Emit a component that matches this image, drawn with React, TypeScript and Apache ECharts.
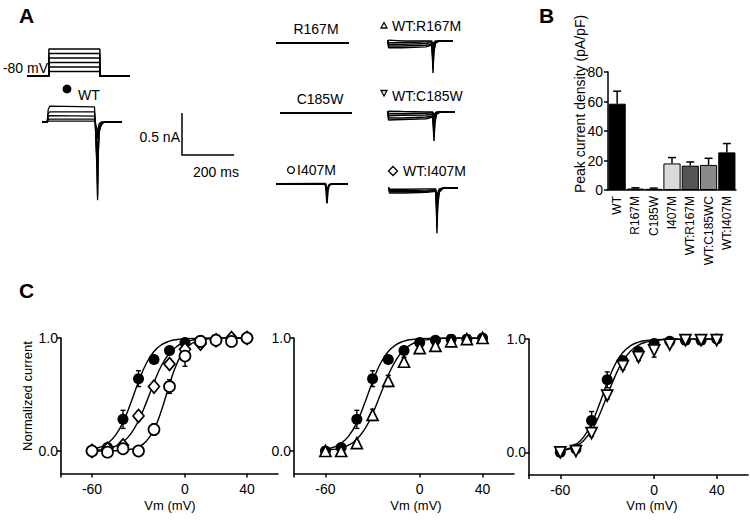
import React, { useEffect, useRef } from "react";
import * as echarts from "echarts";

const FONT = "'Liberation Sans', Arial, Helvetica, sans-serif";

// ---------------- Panel A: voltage protocol ----------------
const protocolHoldingMv = -80;
const protocolStepMv = [-60, -40, -20, 0, 20, 40];
const protocolOnMs = 85;
const protocolOffMs = 283;
const protocolEndMs = 400;

// ---------------- Panel A: current traces (ms, nA) ----------------
const wtTimesMs = [0, 20, 24, 30, 202, 205, 212, 214, 216, 220, 228, 240, 308];
const wtTracesNa = [
  [0, 0, 0.15, 0.19, 0.18, 0, -0.6, -0.93, -0.45, -0.12, -0.03, 0, 0],
  [0, 0, 0.1, 0.12, 0.12, 0, -0.55, -0.88, -0.4, -0.11, -0.03, 0, 0],
  [0, 0, 0.06, 0.075, 0.07, 0, -0.45, -0.75, -0.33, -0.09, -0.02, 0, 0],
  [0, 0, 0.03, 0.035, 0.035, 0, -0.3, -0.5, -0.22, -0.06, -0.01, 0, 0],
  [0, 0, 0.01, 0.01, 0.01, 0, -0.1, -0.2, -0.08, -0.02, 0, 0, 0],
];

const r167mTimesMs = [0, 281];
const r167mTracesNa = [[0, 0]];
const c185wTimesMs = [0, 277];
const c185wTracesNa = [[0, 0]];

const i407mTimesMs = [0, 190, 194, 196, 199, 204, 212, 277];
const i407mTracesNa = [
  [0, 0, -0.1, -0.23, -0.09, -0.02, 0, 0],
  [0, 0.005, -0.06, -0.15, -0.05, -0.01, 0, 0],
];

const wtR167mTimesMs = [0, 3, 6, 60, 150, 172, 175, 177, 180, 186, 200, 254];
const wtR167mTracesNa = [
  [0, 0, -0.08, -0.08, -0.07, -0.05, -0.2, -0.38, -0.15, -0.03, 0, 0],
  [0, 0, -0.06, -0.06, -0.05, -0.04, -0.17, -0.33, -0.12, -0.02, 0, 0],
  [0, 0, -0.04, -0.04, -0.03, -0.02, -0.12, -0.26, -0.09, -0.02, 0, 0],
  [0, 0, -0.02, -0.02, -0.01, -0.01, -0.06, -0.15, -0.05, -0.01, 0, 0],
  [0, 0, 0.01, 0, 0, 0, -0.02, -0.05, -0.02, 0, 0, 0],
];

const wtC185wTimesMs = [0, 3, 6, 60, 150, 176, 179, 181, 184, 190, 204, 262];
const wtC185wTracesNa = [
  [0, 0, -0.095, -0.09, -0.08, -0.06, -0.2, -0.345, -0.14, -0.03, 0, 0],
  [0, 0, -0.07, -0.07, -0.06, -0.05, -0.17, -0.3, -0.12, -0.02, 0, 0],
  [0, 0, -0.045, -0.04, -0.035, -0.03, -0.12, -0.22, -0.08, -0.02, 0, 0],
  [0, 0, -0.02, -0.02, -0.015, -0.01, -0.06, -0.12, -0.04, -0.01, 0, 0],
  [0, 0, 0.01, 0.005, 0, 0, -0.02, -0.05, -0.02, 0, 0, 0],
];

const wtI407mTimesMs = [0, 3, 6, 60, 150, 183, 186, 188, 191, 197, 212, 269];
const wtI407mTracesNa = [
  [0, 0, -0.06, -0.06, -0.05, -0.04, -0.25, -0.54, -0.22, -0.05, 0, 0],
  [0, 0, -0.045, -0.045, -0.04, -0.03, -0.2, -0.46, -0.18, -0.04, 0, 0],
  [0, 0, -0.03, -0.03, -0.025, -0.02, -0.14, -0.34, -0.12, -0.03, 0, 0],
  [0, 0, -0.015, -0.015, -0.01, -0.01, -0.07, -0.18, -0.06, -0.01, 0, 0],
];

// ---------------- Panel B: peak current density ----------------
const barCategories = ["WT", "R167M", "C185W", "I407M", "WT:R167M", "WT:C185WC", "WT:I407M"];
const barValues = [58.5, 1.0, 0.8, 18.0, 16.5, 17.0, 25.5];
const barErrors = [8.5, 0.5, 0.5, 4.0, 2.5, 4.5, 6.0];
const barColors = ["#000000", "#000000", "#000000", "#dadada", "#555555", "#8a8a8a", "#000000"];
const barTicks = [0, 20, 40, 60, 80];

// ---------------- Panel C: activation curves ----------------
const vmSteps = [-60, -50, -40, -30, -20, -10, 0, 10, 20, 30, 40];
const wtMean = [0.0, 0.03, 0.28, 0.64, 0.81, 0.89, 0.96, 0.98, 0.99, 0.99, 1.0];
const wtSem = [0.01, 0.01, 0.08, 0.07, 0.02, 0.02, 0.03, 0.01, 0.01, 0.01, 0.01];
const i407mMean = [0.0, -0.01, 0.02, 0.0, 0.19, 0.57, 0.84, 0.97, 0.98, 0.97, 1.0];
const i407mSem = [0.01, 0.01, 0.01, 0.01, 0.05, 0.06, 0.09, 0.02, 0.01, 0.01, 0.01];
const wtI407mMean = [0.0, 0.02, 0.05, 0.31, 0.57, 0.77, 0.9, 0.95, 0.98, 1.0, 1.0];
const wtI407mSem = [0.01, 0.01, 0.01, 0.04, 0.03, 0.02, 0.03, 0.02, 0.01, 0.01, 0.01];
const wtR167mMean = [0.0, 0.0, 0.07, 0.32, 0.62, 0.79, 0.91, 0.93, 0.97, 0.99, 1.0];
const wtR167mSem = [0.01, 0.01, 0.02, 0.05, 0.05, 0.04, 0.03, 0.02, 0.01, 0.01, 0.01];
const wtC185wMean = [0.0, 0.01, 0.17, 0.5, 0.76, 0.84, 0.9, 0.95, 0.99, 0.99, 0.99];
const wtC185wSem = [0.01, 0.01, 0.03, 0.03, 0.03, 0.03, 0.06, 0.02, 0.01, 0.01, 0.01];

const vmFit = [-60, -55, -50, -45, -40, -35, -30, -25, -20, -15, -10, -5, 0, 5, 10, 15, 20, 25, 30, 35, 40];
const wtFit = [0.015, 0.033, 0.068, 0.136, 0.254, 0.424, 0.613, 0.774, 0.881, 0.941, 0.972, 0.987, 0.994, 0.997, 0.999, 1, 1, 1, 1, 1, 1];
const i407mFit = [0, 0, 0.001, 0.002, 0.006, 0.015, 0.036, 0.086, 0.19, 0.367, 0.59, 0.781, 0.898, 0.956, 0.982, 0.993, 0.997, 0.999, 1, 1, 1];
const wtI407mFit = [0.005, 0.01, 0.021, 0.042, 0.081, 0.152, 0.269, 0.428, 0.606, 0.761, 0.865, 0.928, 0.964, 0.982, 0.991, 0.996, 0.998, 0.999, 1, 1, 1];
const wtR167mFit = [0.007, 0.014, 0.027, 0.054, 0.105, 0.193, 0.33, 0.5, 0.67, 0.807, 0.895, 0.946, 0.973, 0.986, 0.993, 0.997, 0.998, 1, 1, 1, 1];
const wtC185wFit = [0.014, 0.027, 0.054, 0.105, 0.193, 0.33, 0.5, 0.67, 0.807, 0.895, 0.946, 0.973, 0.986, 0.993, 0.997, 0.998, 1, 1, 1, 1, 1];

const cXTicks = [-80, -60, 0, 40];
const cXLabels = [-60, 0, 40];
const cYLabels = [0, 1];

function buildOption(): any {
  const black = "#000";
  const grids = [
    { left: 27, top: 46.75, width: 103, height: 31.5 }, // 0 protocol
    { left: 42, top: 96.8, width: 80, height: 109.2 }, // 1 WT
    { left: 276, top: 17.8, width: 73, height: 109.2 }, // 2 R167M
    { left: 280, top: 87.8, width: 72, height: 109.2 }, // 3 C185W
    { left: 276, top: 158.8, width: 72, height: 109.2 }, // 4 I407M
    { left: 387, top: 15.8, width: 66, height: 109.2 }, // 5 WT:R167M
    { left: 387, top: 86.8, width: 68, height: 109.2 }, // 6 WT:C185W
    { left: 388, top: 162.8, width: 70, height: 109.2 }, // 7 WT:I407M
    { left: 608, top: 72, width: 128, height: 118 }, // 8 bars
    { left: 61, top: 338, width: 217, height: 135.6 }, // 9 C1
    { left: 294, top: 338, width: 220, height: 135.6 }, // 10 C2
    { left: 529, top: 339, width: 219, height: 136 }, // 11 C3
  ];

  const traceSets: [number, number[], number[][], number][] = [
    [1, wtTimesMs, wtTracesNa, 1.3],
    [2, r167mTimesMs, r167mTracesNa, 2.2],
    [3, c185wTimesMs, c185wTracesNa, 2.2],
    [4, i407mTimesMs, i407mTracesNa, 1.8],
    [5, wtR167mTimesMs, wtR167mTracesNa, 1.4],
    [6, wtC185wTimesMs, wtC185wTracesNa, 1.5],
    [7, wtI407mTimesMs, wtI407mTracesNa, 1.4],
  ];

  const xAxis: any[] = [];
  const yAxis: any[] = [];
  const series: any[] = [];

  // protocol axes
  xAxis.push({ gridIndex: 0, type: "value", min: 0, max: protocolEndMs, show: false });
  yAxis.push({ gridIndex: 0, type: "value", min: -90, max: 50, show: false });
  protocolStepMv.forEach((lvl) => {
    series.push({
      type: "line",
      xAxisIndex: 0,
      yAxisIndex: 0,
      symbol: "none",
      silent: true,
      lineStyle: { color: black, width: 1.4 },
      data: [
        [0, protocolHoldingMv],
        [protocolOnMs, protocolHoldingMv],
        [protocolOnMs, lvl],
        [protocolOffMs, lvl],
        [protocolOffMs, protocolHoldingMv],
        [protocolEndMs, protocolHoldingMv],
      ],
    });
  });

  traceSets.forEach(([gi, times, traces, w]) => {
    xAxis.push({ gridIndex: gi, type: "value", min: 0, max: times[times.length - 1], show: false });
    yAxis.push({ gridIndex: gi, type: "value", min: -1, max: 0.3, show: false });
    traces.forEach((tr) => {
      series.push({
        type: "line",
        xAxisIndex: gi,
        yAxisIndex: gi,
        symbol: "none",
        silent: true,
        lineStyle: { color: black, width: w },
        data: times.map((t, i) => [t, tr[i]]),
      });
    });
  });

  // Panel B axes
  xAxis.push({
    gridIndex: 8,
    type: "category",
    data: barCategories,
    axisLine: { show: true, lineStyle: { color: black, width: 1.5 } },
    axisTick: { show: false },
    axisLabel: { interval: 0, rotate: 90, color: black, fontSize: 12, fontFamily: FONT, margin: 6 },
  });
  yAxis.push({
    gridIndex: 8,
    type: "value",
    min: barTicks[0],
    max: barTicks[barTicks.length - 1],
    interval: barTicks[1] - barTicks[0],
    axisLine: { show: true, lineStyle: { color: black, width: 1.5 } },
    axisTick: { show: true, length: 4, lineStyle: { color: black, width: 1.5 } },
    axisLabel: { color: black, fontSize: 14, fontFamily: FONT, margin: 5 },
    splitLine: { show: false },
  });
  series.push({
    type: "bar",
    xAxisIndex: 8,
    yAxisIndex: 8,
    barCategoryGap: "6%",
    silent: true,
    itemStyle: { borderColor: black, borderWidth: 1 },
    data: barValues.map((v, i) => ({ value: v, itemStyle: { color: barColors[i] } })),
  });
  series.push({
    type: "custom",
    xAxisIndex: 8,
    yAxisIndex: 8,
    silent: true,
    z: 5,
    data: barValues.map((v, i) => [i, v, barErrors[i]]),
    renderItem: (params: any, api: any) => {
      const i = api.value(0);
      const v = api.value(1);
      const e = api.value(2);
      const b = api.coord([i, v]);
      const t = api.coord([i, v + e]);
      const st = { stroke: black, lineWidth: 1.5 };
      return {
        type: "group",
        children: [
          { type: "line", shape: { x1: b[0], y1: b[1], x2: t[0], y2: t[1] }, style: st },
          { type: "line", shape: { x1: t[0] - 4, y1: t[1], x2: t[0] + 4, y2: t[1] }, style: st },
        ],
      };
    },
  });

  // Panel C axes
  [9, 10, 11].forEach((gi) => {
    xAxis.push({
      gridIndex: gi,
      type: "value",
      min: -80,
      max: 60,
      axisLine: { show: true, onZero: false, lineStyle: { color: black, width: 1.6 } },
      axisTick: { show: true, customValues: cXTicks, length: 4, lineStyle: { color: black, width: 1.5 } },
      axisLabel: { customValues: cXLabels, color: black, fontSize: 14, fontFamily: FONT, margin: 8 },
      splitLine: { show: false },
    });
    yAxis.push({
      gridIndex: gi,
      type: "value",
      min: -0.2,
      max: 1,
      axisLine: { show: true, onZero: false, lineStyle: { color: black, width: 1.6 } },
      axisTick: { show: true, customValues: cYLabels, length: 4, lineStyle: { color: black, width: 1.5 } },
      axisLabel: {
        customValues: cYLabels,
        formatter: (v: number) => v.toFixed(1),
        color: black,
        fontSize: 14,
        fontFamily: FONT,
        margin: 3,
      },
      splitLine: { show: false },
    });
  });

  const fitLine = (gi: number, ys: number[]) => ({
    type: "line",
    xAxisIndex: gi,
    yAxisIndex: gi,
    symbol: "none",
    smooth: true,
    silent: true,
    z: 2,
    lineStyle: { color: black, width: 1.4 },
    data: vmFit.map((x, i) => [x, ys[i]]),
  });
  const errBars = (gi: number, m: number[], s: number[]) => ({
    type: "custom",
    xAxisIndex: gi,
    yAxisIndex: gi,
    silent: true,
    z: 3,
    data: vmSteps.map((x, i) => [x, m[i], s[i]]),
    renderItem: (params: any, api: any) => {
      const x = api.value(0);
      const mm = api.value(1);
      const ss = api.value(2);
      const lo = api.coord([x, mm - ss]);
      const hi = api.coord([x, mm + ss]);
      const st = { stroke: black, lineWidth: 1.4 };
      return {
        type: "group",
        children: [
          { type: "line", shape: { x1: lo[0], y1: lo[1], x2: hi[0], y2: hi[1] }, style: st },
          { type: "line", shape: { x1: lo[0] - 2.5, y1: lo[1], x2: lo[0] + 2.5, y2: lo[1] }, style: st },
          { type: "line", shape: { x1: hi[0] - 2.5, y1: hi[1], x2: hi[0] + 2.5, y2: hi[1] }, style: st },
        ],
      };
    },
  });
  const pts = (gi: number, m: number[], symbol: string, size: any, filled: boolean, rot = 0) => ({
    type: "scatter",
    xAxisIndex: gi,
    yAxisIndex: gi,
    symbol,
    symbolSize: size,
    symbolRotate: rot,
    silent: true,
    z: 4,
    itemStyle: filled
      ? { color: black, opacity: 1 }
      : { color: "#fff", borderColor: black, borderWidth: 1.7, opacity: 1 },
    data: vmSteps.map((x, i) => [x, m[i]]),
  });

  // C1: WT, WT:I407M, I407M
  series.push(fitLine(9, wtFit), fitLine(9, wtI407mFit), fitLine(9, i407mFit));
  series.push(errBars(9, wtMean, wtSem), errBars(9, wtI407mMean, wtI407mSem), errBars(9, i407mMean, i407mSem));
  series.push(pts(9, wtMean, "circle", 11, true), pts(9, wtI407mMean, "diamond", [11, 13], false), pts(9, i407mMean, "circle", 11, false));
  // C2: WT, WT:R167M
  series.push(fitLine(10, wtFit), fitLine(10, wtR167mFit));
  series.push(errBars(10, wtMean, wtSem), errBars(10, wtR167mMean, wtR167mSem));
  series.push(pts(10, wtMean, "circle", 11, true), pts(10, wtR167mMean, "triangle", 11, false));
  // C3: WT, WT:C185W
  series.push(fitLine(11, wtFit), fitLine(11, wtC185wFit));
  series.push(errBars(11, wtMean, wtSem), errBars(11, wtC185wMean, wtC185wSem));
  series.push(pts(11, wtMean, "circle", 11, true), pts(11, wtC185wMean, "triangle", 11, false, 180));

  const txt = (x: number, y: number, text: string, o: any = {}) => ({
    type: "text",
    x,
    y,
    rotation: o.rotation || 0,
    silent: true,
    style: {
      text,
      fill: black,
      fontFamily: FONT,
      fontSize: o.size || 14,
      fontWeight: o.bold ? "bold" : "normal",
      align: o.align || "left",
      verticalAlign: "middle",
    },
  });
  const stroke = { stroke: black, lineWidth: 1.3, fill: "#fff" };

  const graphic = [
    txt(19, 15, "A", { size: 21, bold: true }),
    txt(539, 15, "B", { size: 21, bold: true }),
    txt(19, 290, "C", { size: 21, bold: true }),
    txt(48, 68, "-80 mV", { align: "right" }),
    { type: "circle", silent: true, shape: { cx: 67, cy: 89, r: 4.4 }, style: { fill: black } },
    txt(78, 95, "WT"),
    {
      type: "polyline",
      silent: true,
      shape: { points: [[182, 113], [182, 155], [234, 155]] },
      style: { stroke: black, lineWidth: 1.5, fill: null },
    },
    txt(180, 137, "0.5 nA", { align: "right" }),
    txt(216, 172, "200 ms", { align: "center" }),
    txt(316, 29, "R167M", { align: "center" }),
    txt(320, 99, "C185W", { align: "center" }),
    { type: "circle", silent: true, shape: { cx: 291, cy: 170, r: 3.4 }, style: stroke },
    txt(297, 170, "I407M"),
    { type: "polygon", silent: true, shape: { points: [[381, 28], [387, 28], [384, 22.5]] }, style: stroke },
    txt(392, 26, "WT:R167M"),
    { type: "polygon", silent: true, shape: { points: [[381, 90.5], [387, 90.5], [384, 96]] }, style: stroke },
    txt(392, 96, "WT:C185W"),
    { type: "polygon", silent: true, shape: { points: [[393, 166.5], [397.5, 171], [393, 175.5], [388.5, 171]] }, style: stroke },
    txt(403, 171, "WT:I407M"),
    txt(580, 104, "Peak current density (pA/pF)", { align: "center", rotation: Math.PI / 2 }),
    txt(27, 396, "Normalized current", { align: "center", rotation: Math.PI / 2, size: 13 }),
    txt(170, 505, "Vm (mV)", { align: "center", size: 13 }),
    txt(416, 505, "Vm (mV)", { align: "center", size: 13 }),
    txt(652, 505, "Vm (mV)", { align: "center", size: 13 }),
  ];

  return {
    animation: false,
    backgroundColor: "#fff",
    textStyle: { fontFamily: FONT },
    grid: grids,
    xAxis,
    yAxis,
    series,
    graphic,
  };
}

export default function App() {
  const ref = useRef<HTMLDivElement>(null);
  useEffect(() => {
    if (!ref.current) return;
    const chart = echarts.init(ref.current, undefined, { renderer: "svg" });
    chart.setOption(buildOption());
    return () => chart.dispose();
  }, []);
  return (
    <div
      ref={ref}
      style={{ position: "fixed", left: 0, top: 0, width: 750, height: 523, background: "#fff" }}
    />
  );
}
